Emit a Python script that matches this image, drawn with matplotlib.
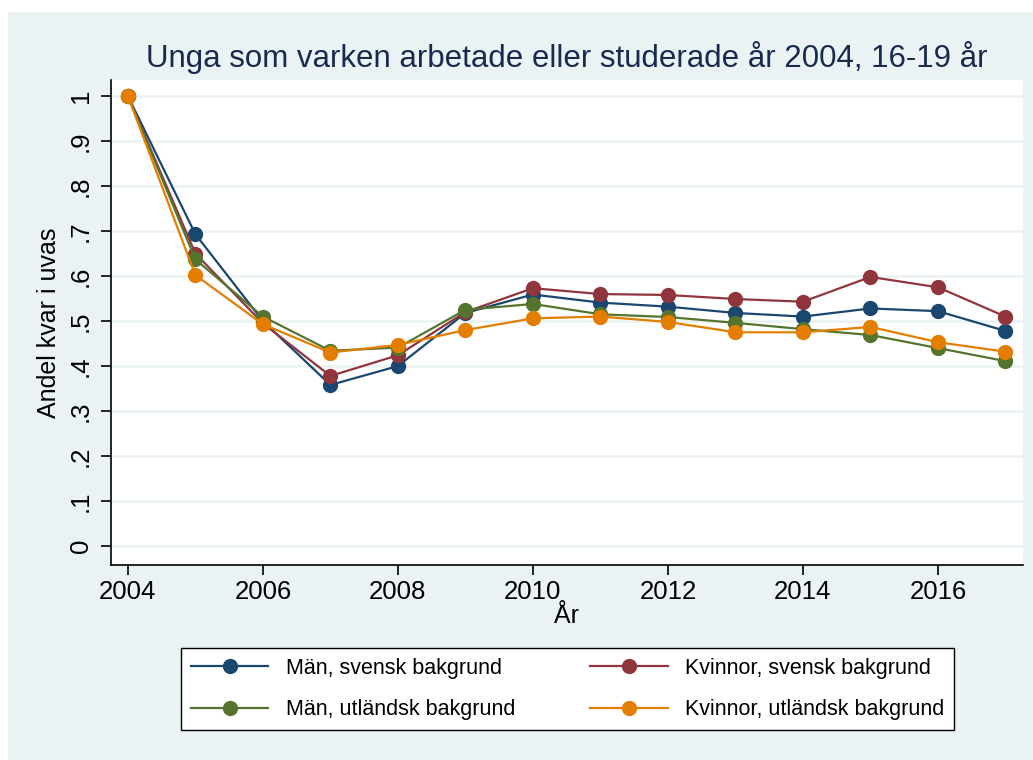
import matplotlib.pyplot as plt
from matplotlib.patches import Rectangle

years = list(range(2004, 2018))

man_svensk = [1.0, 0.693, 0.500, 0.358, 0.400, 0.518, 0.559, 0.541, 0.532, 0.518, 0.510, 0.528, 0.522, 0.478]
kvinnor_svensk = [1.0, 0.650, 0.495, 0.378, 0.424, 0.520, 0.573, 0.560, 0.558, 0.549, 0.543, 0.598, 0.575, 0.510]
man_utlandsk = [1.0, 0.637, 0.510, 0.434, 0.441, 0.525, 0.538, 0.515, 0.509, 0.496, 0.482, 0.469, 0.440, 0.411]
kvinnor_utlandsk = [1.0, 0.602, 0.493, 0.430, 0.447, 0.480, 0.506, 0.510, 0.498, 0.475, 0.475, 0.487, 0.453, 0.432]

series = [
    ("Män, svensk bakgrund", man_svensk, "#1A476F"),
    ("Kvinnor, svensk bakgrund", kvinnor_svensk, "#90353B"),
    ("Män, utländsk bakgrund", man_utlandsk, "#55752F"),
    ("Kvinnor, utländsk bakgrund", kvinnor_utlandsk, "#E37E00"),
]

yticks = [0, 0.1, 0.2, 0.3, 0.4, 0.5, 0.6, 0.7, 0.8, 0.9, 1.0]
ylabels = ["0", ".1", ".2", ".3", ".4", ".5", ".6", ".7", ".8", ".9", "1"]
xticks = [2004, 2006, 2008, 2010, 2012, 2014, 2016]

plt.rcParams['font.family'] = ['Liberation Sans', 'DejaVu Sans']

W, H = 1033, 760
fig = plt.figure(figsize=(W / 100, H / 100), dpi=100, facecolor="white")
bg = "#EAF2F3"
fig.patches.append(Rectangle((8 / W, 0), 1, 1 - 12 / H, transform=fig.transFigure,
                             facecolor=bg, edgecolor="none", zorder=-10))

ax = fig.add_axes([111 / W, 1 - 565 / H, (1023 - 111) / W, (565 - 80) / H])
ax.set_facecolor("white")

lines = []
for label, vals, col in series:
    ln, = ax.plot(years, vals, color=col, lw=1.6, marker="o", markersize=11,
                  markeredgewidth=0, label=label)
    lines.append(ln)

ax.set_xlim(2003.75, 2017.26)
ax.set_ylim(-0.042, 1.0356)
ax.set_yticks(yticks)
ax.set_yticklabels(ylabels, rotation=90, va="center")
ax.set_xticks(xticks)
ax.tick_params(axis="both", labelsize=18.5, direction="out", length=7, width=1.2, colors="black")
ax.tick_params(axis="y", pad=6)
ax.grid(axis="y", color=bg, lw=1.8)
ax.set_axisbelow(True)
for s in ["top", "right"]:
    ax.spines[s].set_visible(False)
for s in ["left", "bottom"]:
    ax.spines[s].set_linewidth(1.2)

ax.set_ylabel("Andel kvar i uvas", fontsize=18, labelpad=6)
ax.set_xlabel("År", fontsize=18, labelpad=0)

fig.text(567 / W, 1 - 57 / H, "Unga som varken arbetade eller studerade år 2004, 16-19 år",
         fontsize=22.5, color="#1A2A4F", ha="center", va="center")

# matplotlib fills legend column-wise, reorder so rows read Män / Kvinnor
order = [0, 2, 1, 3]
leg = fig.legend([lines[i] for i in order], [series[i][0] for i in order],
                 loc="center", bbox_to_anchor=(567.5 / W, 1 - 689 / H), ncol=2,
                 fontsize=15.5, frameon=True, fancybox=False, edgecolor="black",
                 facecolor="white", framealpha=1,
                 handlelength=3.6, columnspacing=3.5, borderpad=0.45, labelspacing=0.95)
leg.get_frame().set_linewidth(1.0)

fig.savefig("out.png", dpi=100, facecolor=fig.get_facecolor())
